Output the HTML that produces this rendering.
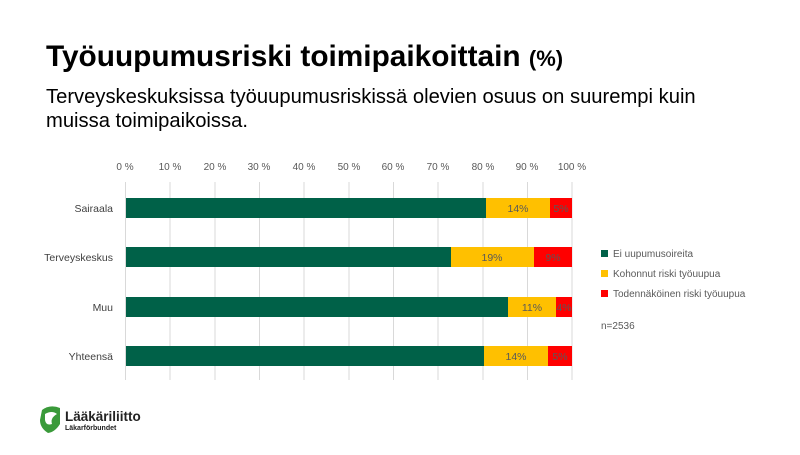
<!DOCTYPE html>
<html><head><meta charset="utf-8"><style>
body{margin:0;width:800px;height:450px;background:#fff;overflow:hidden;font-family:"Liberation Sans",sans-serif;}
</style></head><body>
<svg width="800" height="450" xmlns="http://www.w3.org/2000/svg" font-family="Liberation Sans, sans-serif">
<text x="46" y="66" font-size="29.8" font-weight="bold" fill="#000">Työuupumusriski toimipaikoittain <tspan font-size="22">(%)</tspan></text>
<text x="46" y="103" font-size="20.2" fill="#000">Terveyskeskuksissa työuupumusriskissä olevien osuus on suurempi kuin</text>
<text x="46" y="127" font-size="20.2" fill="#000">muissa toimipaikoissa.</text>
<g stroke="#d9d9d9" stroke-width="1">
<line x1="125.5" y1="182" x2="125.5" y2="380"/><line x1="170" y1="182" x2="170" y2="380"/><line x1="215" y1="182" x2="215" y2="380"/><line x1="259.5" y1="182" x2="259.5" y2="380"/><line x1="304" y1="182" x2="304" y2="380"/><line x1="349" y1="182" x2="349" y2="380"/><line x1="393.5" y1="182" x2="393.5" y2="380"/><line x1="438" y1="182" x2="438" y2="380"/><line x1="483" y1="182" x2="483" y2="380"/><line x1="527.5" y1="182" x2="527.5" y2="380"/><line x1="572" y1="182" x2="572" y2="380"/>
</g>
<g font-size="10" fill="#595959" text-anchor="middle">
<text x="125" y="170">0 %</text><text x="170" y="170">10 %</text><text x="215" y="170">20 %</text><text x="259" y="170">30 %</text><text x="304" y="170">40 %</text><text x="349" y="170">50 %</text><text x="393" y="170">60 %</text><text x="438" y="170">70 %</text><text x="483" y="170">80 %</text><text x="527" y="170">90 %</text><text x="572" y="170">100 %</text>
</g>
<g font-size="10.5" fill="#404040" text-anchor="end">
<text x="113" y="212">Sairaala</text><text x="113" y="261">Terveyskeskus</text><text x="113" y="311">Muu</text><text x="113" y="360">Yhteensä</text>
</g>
<rect x="126" y="198" width="360" height="20" fill="#006148"/><rect x="486" y="198" width="64" height="20" fill="#ffc000"/><rect x="550" y="198" width="22" height="20" fill="#ff0000"/>
<rect x="126" y="247" width="325" height="20" fill="#006148"/><rect x="451" y="247" width="83" height="20" fill="#ffc000"/><rect x="534" y="247" width="38" height="20" fill="#ff0000"/>
<rect x="126" y="297" width="382" height="20" fill="#006148"/><rect x="508" y="297" width="48" height="20" fill="#ffc000"/><rect x="556" y="297" width="16" height="20" fill="#ff0000"/>
<rect x="126" y="346" width="358" height="20" fill="#006148"/><rect x="484" y="346" width="64" height="20" fill="#ffc000"/><rect x="548" y="346" width="24" height="20" fill="#ff0000"/>
<g font-size="10.5" fill="#595959" text-anchor="middle">
<text x="518" y="212">14%</text><text x="561" y="212">5%</text>
<text x="492" y="261">19%</text><text x="553" y="261">9%</text>
<text x="532" y="311">11%</text><text x="564" y="311">4%</text>
<text x="516" y="360">14%</text><text x="560" y="360">5%</text>
</g>
<rect x="601" y="250" width="7" height="7" fill="#006148"/><text x="613" y="257" font-size="10" fill="#595959">Ei uupumusoireita</text>
<rect x="601" y="270" width="7" height="7" fill="#ffc000"/><text x="613" y="277" font-size="10" fill="#595959">Kohonnut riski työuupua</text>
<rect x="601" y="290" width="7" height="7" fill="#ff0000"/><text x="613" y="297" font-size="10" fill="#595959">Todennäköinen riski työuupua</text>
<text x="601" y="329" font-size="10" fill="#595959">n=2536</text>
<path d="M42 410 Q50 404 60 408 L60 424 Q55 432 48 433 Q40 428 40 420 Z" fill="#3a9a3a"/>
<path d="M45 414 Q52 410 57 414 Q50 418 52 424 Q46 426 45 420 Z" fill="#fff"/>
<text x="65" y="421" font-size="13.5" font-weight="bold" fill="#222">Lääkäriliitto</text>
<text x="65" y="430" font-size="7" font-weight="bold" fill="#222">Läkarförbundet</text>
</svg>
</body></html>
